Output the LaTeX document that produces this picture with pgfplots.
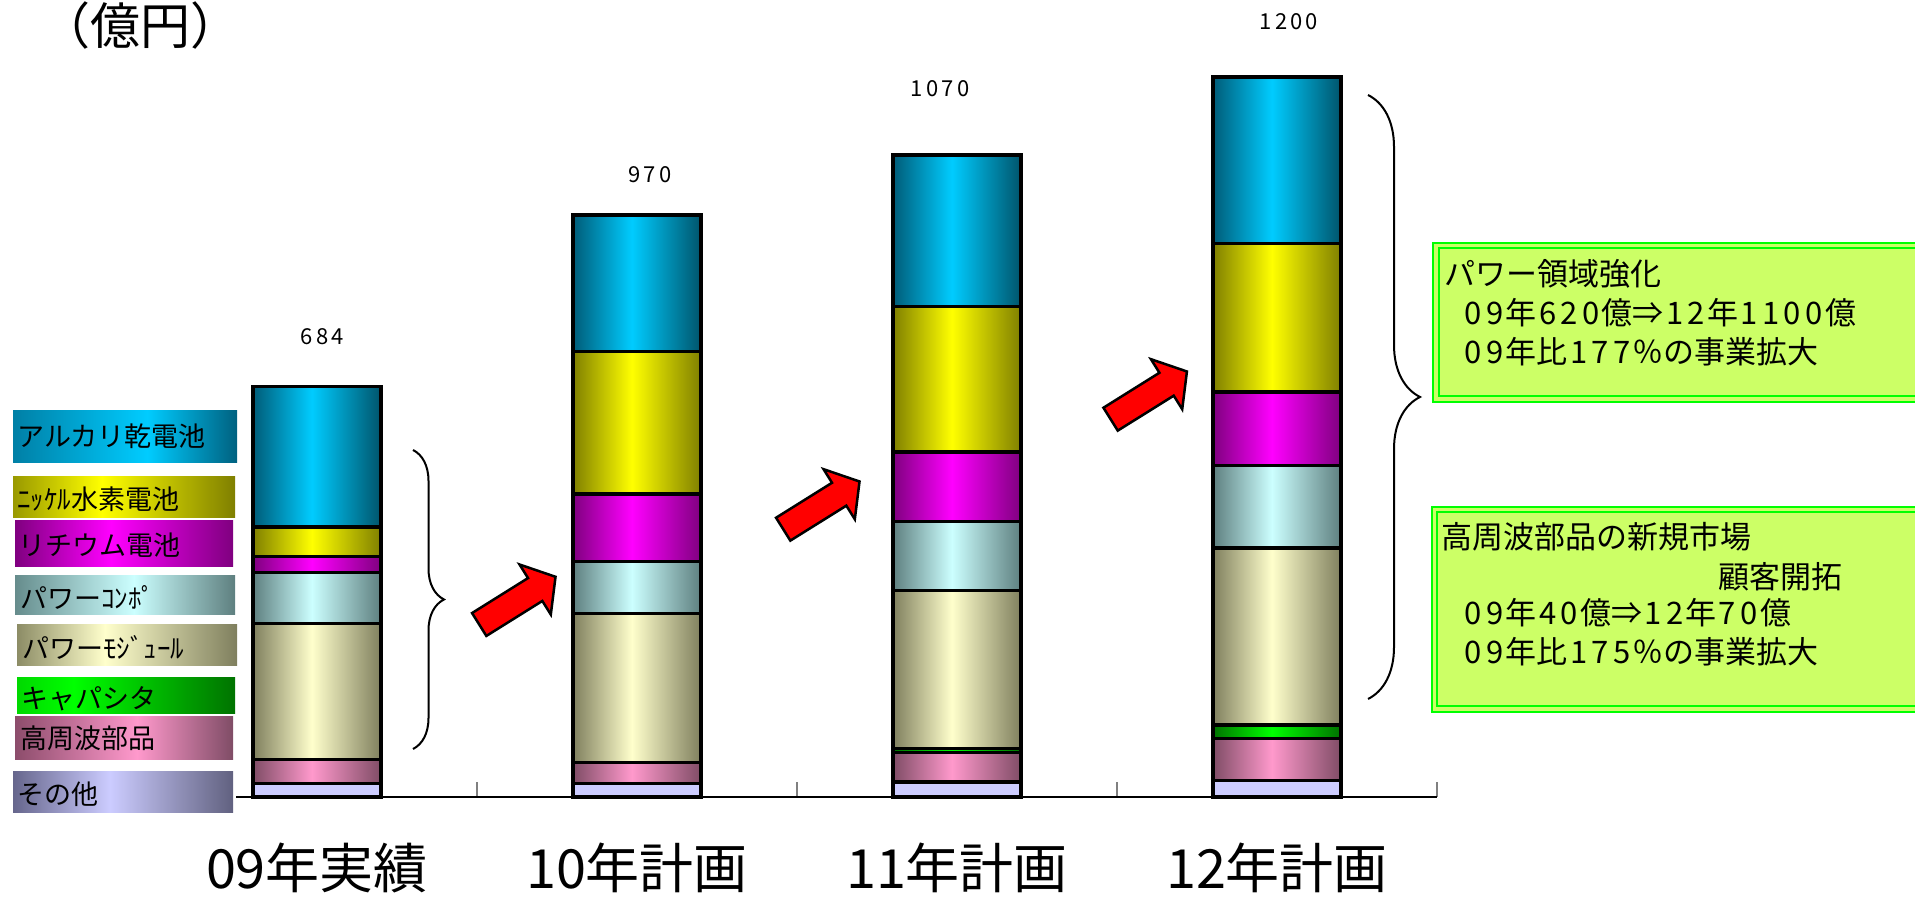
\documentclass[border=0pt]{standalone}
\usepackage{fontspec}
\setmainfont{Noto Sans CJK JP}
\usepackage{pgfplots}
\pgfplotsset{compat=1.18}
\usetikzlibrary{decorations.pathreplacing}

% digits set on a fixed advance
\newcommand\dg[1]{\dgloop#1\relax}
\def\dgloop#1{\ifx#1\relax\else\makebox[0.7em]{#1}\expandafter\dgloop\fi}

% horizontal "cylinder" shadings: left edge, highlight, right edge, highlight position
\newcommand\mkshade[5]{%
  \pgfdeclarehorizontalshading{#1}{100bp}{rgb(0bp)=(#2); rgb(25bp)=(#2); rgb(#5)=(#3); rgb(75bp)=(#4); rgb(100bp)=(#4)}}

% bar segments
\mkshade{shHF}{.5,.3,.4}{1,.6,.8}{.5,.3,.4}{48bp}
\mkshade{shCap}{0,.45,0}{0,1,0}{0,.45,0}{48bp}
\mkshade{shMod}{.5,.5,.37}{1,1,.8}{.5,.5,.37}{48bp}
\mkshade{shComp}{.37,.5,.5}{.8,1,1}{.37,.5,.5}{48bp}
\mkshade{shLi}{.5,0,.5}{1,0,1}{.5,0,.5}{48bp}
\mkshade{shNi}{.5,.5,0}{1,1,0}{.5,.5,0}{48bp}
\mkshade{shAlk}{0,.36,.47}{0,.8,1}{0,.33,.42}{48bp}
% key boxes
\mkshade{lgAlk}{0,.5,.65}{0,.8,1}{0,.38,.5}{55bp}
\mkshade{lgNi}{.6,.6,0}{1,1,0}{.5,.5,0}{45bp}
\mkshade{lgLi}{.5,0,.5}{1,0,1}{.5,0,.5}{47bp}
\mkshade{lgComp}{.4,.55,.55}{.8,1,1}{.37,.5,.5}{52bp}
\mkshade{lgMod}{.55,.55,.4}{1,1,.8}{.5,.5,.37}{45bp}
\mkshade{lgCap}{0,.85,0}{0,1,0}{0,.45,0}{38bp}
\mkshade{lgHF}{.55,.3,.42}{1,.6,.8}{.5,.3,.4}{53bp}
\mkshade{lgOther}{.4,.4,.55}{.8,.8,1}{.38,.38,.5}{47bp}

\definecolor{lav}{RGB}{204,204,255}
\definecolor{boxfill}{RGB}{204,255,102}
\definecolor{boxline}{RGB}{0,255,0}

\tikzset{
  sOther/.style={fill=lav},
  sHF/.style={shade, shading=shHF},
  sCap/.style={shade, shading=shCap},
  sMod/.style={shade, shading=shMod},
  sComp/.style={shade, shading=shComp},
  sLi/.style={shade, shading=shLi},
  sNi/.style={shade, shading=shNi},
  sAlk/.style={shade, shading=shAlk},
}

% one axis per year so that every bar segment gets its own shading
\pgfplotsset{
  stackbase/.style={
    at={(118pt,50pt)}, anchor=south west,
    scale only axis, width=600.5pt, height=390pt,
    xmin=-0.2531, xmax=3.5, ymin=0, ymax=1300,
    ybar stacked, bar width=0.4, clip=false,
    every axis plot/.append style={draw=black, line width=1.6pt},
  },
}

\begin{document}
\begin{tikzpicture}
\useasboundingbox (0,0) rectangle (957.5pt,448.5pt);
% sales by segment (100 million yen), stacked from the bottom
% 09 actual
\begin{axis}[stackbase,
  axis x line=bottom, axis y line=none,
  axis line style={-, line width=0.7pt, black},
  xtick={0,1,2,3},
  xticklabels={09年実績,10年計画,11年計画,12年計画},
  minor xtick={0.5,1.5,2.5,3.5},
  tick align=inside,
  major tick length=0pt,
  minor tick length=7.5pt,
  minor tick style={draw=gray, line width=0.6pt},
  x tick label style={font=\fontsize{27}{30}\selectfont, anchor=base, yshift=-46pt},
]
\addplot[sOther] coordinates {(0,23)};
\addplot[sHF]    coordinates {(0,40)};
\addplot[sMod]   coordinates {(0,226)};
\addplot[sComp]  coordinates {(0,85)};
\addplot[sLi]    coordinates {(0,27)};
\addplot[sNi]    coordinates {(0,49)};
\addplot[sAlk]   coordinates {(0,234)};
\coordinate (t0) at (axis cs:0.017,766.7);
\coordinate (t1) at (axis cs:1.040,1037.3);
\coordinate (t2) at (axis cs:1.947,1180);
\coordinate (t3) at (axis cs:3.037,1291.7);
\end{axis}
% 10 plan
\begin{axis}[stackbase, hide axis]
\addplot[sOther] coordinates {(1,22)};
\addplot[sHF]    coordinates {(1,36)};
\addplot[sMod]   coordinates {(1,248)};
\addplot[sComp]  coordinates {(1,86)};
\addplot[sLi]    coordinates {(1,113)};
\addplot[sNi]    coordinates {(1,237)};
\addplot[sAlk]   coordinates {(1,228)};
\end{axis}
% 11 plan
\begin{axis}[stackbase, hide axis]
\addplot[sOther] coordinates {(2,25)};
\addplot[sHF]    coordinates {(2,49)};
\addplot[sCap]   coordinates {(2,7)};
\addplot[sMod]   coordinates {(2,263)};
\addplot[sComp]  coordinates {(2,115)};
\addplot[sLi]    coordinates {(2,116)};
\addplot[sNi]    coordinates {(2,243)};
\addplot[sAlk]   coordinates {(2,252)};
\end{axis}
% 12 plan
\begin{axis}[stackbase, hide axis]
\addplot[sOther] coordinates {(3,28)};
\addplot[sHF]    coordinates {(3,70)};
\addplot[sCap]   coordinates {(3,22)};
\addplot[sMod]   coordinates {(3,295)};
\addplot[sComp]  coordinates {(3,137)};
\addplot[sLi]    coordinates {(3,123)};
\addplot[sNi]    coordinates {(3,248)};
\addplot[sAlk]   coordinates {(3,277)};
\end{axis}

% totals
\begin{scope}[every node/.style={font=\fontsize{11}{13}\selectfont, inner sep=0}]
\node at (t0) {\dg{684}};
\node at (t1) {\dg{970}};
\node at (t2) {\dg{1070}};
\node at (t3) {\dg{1200}};
\end{scope}

\begin{scope}[yshift=448.5pt, x=0.5pt, y=-0.5pt,
  key/.style={anchor=west, inner sep=0, font=\fontsize{13.5}{16}\selectfont},
  note/.style={anchor=west, inner sep=0, font=\fontsize{15.5}{18}\selectfont}]
% unit
\node[anchor=base west, inner sep=0, font=\fontsize{25}{28}\selectfont] at (40,45) {（億円）};
% segment keys
\shade[shading=lgAlk] (13,411) rectangle (237,463);
\node[key] at (17,436) {アルカリ乾電池};
\shade[shading=lgNi] (13,477) rectangle (235,518);
\node[key] at (17,499) {ﾆｯｹﾙ水素電池};
\shade[shading=lgLi] (15,521) rectangle (233,567);
\node[key] at (18,545) {リチウム電池};
\shade[shading=lgComp] (15,576) rectangle (235,615);
\node[key] at (20,597) {パワーｺﾝﾎﾟ};
\shade[shading=lgMod] (17,625) rectangle (237,666);
\node[key] at (22,647) {パワーﾓｼﾞｭｰﾙ};
\shade[shading=lgCap] (17,678) rectangle (235,714);
\node[key] at (21,699) {キャパシタ};
\shade[shading=lgHF] (15,717) rectangle (233,760);
\node[key] at (20,738.5) {高周波部品};
\shade[shading=lgOther] (13,772) rectangle (233,813);
\node[key] at (17,794) {その他};
% growth arrows
\foreach \tx/\ty in {479.2/624.5, 783.2/529.2, 1110.6/419.2} {
  \begin{scope}[shift={(\tx,\ty)}, rotate=32]
    \draw[fill=red, draw=black, line width=1.25pt, line join=miter]
      (0,-13.5) -- (66,-13.5) -- (66,-29.5) -- (90,0) -- (66,29.5) -- (66,13.5) -- (0,13.5) -- cycle;
  \end{scope}
}
% braces
\draw[decorate, decoration={brace, amplitude=15.5pt}, line width=1pt] (413,450) -- (413,749);
\draw[decorate, decoration={brace, amplitude=26pt}, line width=1pt] (1368,95) -- (1368,699);
% call-out boxes
\filldraw[fill=boxfill, draw=boxline, line width=1pt] (1433,243) rectangle (1935,402);
\draw[draw=boxline, line width=1pt] (1438.5,248.5) rectangle (1935,396.5);
\node[note] at (1444,274) {パワー領域強化};
\node[note] at (1462,313) {\dg{09}年\dg{620}億⇒\dg{12}年\dg{1100}億};
\node[note] at (1462,352) {\dg{09}年比\dg{177}％の事業拡大};
\filldraw[fill=boxfill, draw=boxline, line width=1pt] (1432,507) rectangle (1935,712);
\draw[draw=boxline, line width=1pt] (1437,512.5) rectangle (1935,706.5);
\node[note] at (1441,537) {高周波部品の新規市場};
\node[note] at (1718,577) {顧客開拓};
\node[note] at (1462,613) {\dg{09}年\dg{40}億⇒\dg{12}年\dg{70}億};
\node[note] at (1462,652) {\dg{09}年比\dg{175}％の事業拡大};
\end{scope}
\end{tikzpicture}
\end{document}
